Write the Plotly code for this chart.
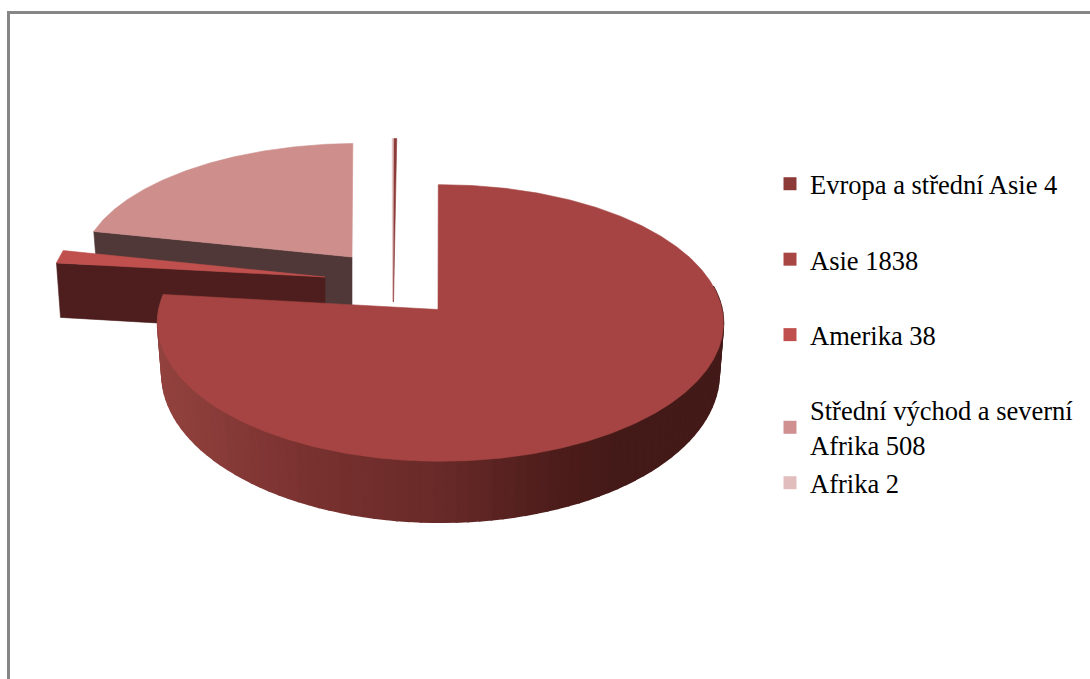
import numpy as np
import plotly.graph_objects as go

# ---- data ----
regions = ["Evropa a střední Asie", "Asie", "Amerika", "Střední východ a severní<br>Afrika", "Afrika"]
values = [4, 1838, 38, 508, 2]

# ---- styling ----
top_colors = ["#8c3a38", "#a54442", "#c0504d", "#cd8e8c", "#e2bdbd"]
swatch_colors = ["#8c3a38", "#a84644", "#c0504d", "#d09090", "#e2bdbd"]
wall_colors = [None, None, "#4e1e1e", "#503838", None]
apex_x = [393.5, 438, 325, 352, 392.5]
apex_y = [302, 309.5, 277, 257, 302]
rim_shift = [5.5, 2.5, 0, 7, 6]
scale_x = [1.0, 0.995, 0.965, 0.978, 1.0]
scale_y = [1.31, 1.0, 0.94, 0.91, 1.31]
depth_scale = [0, 1.0, 1.12, 1.0, 0]
FIRST_ANGLE = -1.1
RX, RY, K, DEPTH = 283.0, 137.0, 0.0975, 49.7


def rim(i, t):
    """Point of slice i's outer edge at clockwise angle t (deg from top)."""
    r = np.radians(t)
    s, c = np.sin(r), np.cos(r)
    w = 1 + K * c
    return apex_x[i] + rim_shift[i] + scale_x[i] * RX * s / w, apex_y[i] - scale_y[i] * RY * c / w, c


def depth(i, c):
    return depth_scale[i] * DEPTH / (1 + K * c) ** 2


def lerp_color(x):
    stops = [(160, (146, 66, 62)), (300, (122, 50, 48)), (440, (104, 42, 40)), (560, (76, 28, 26)), (620, (67, 26, 24)), (730, (67, 26, 24))]
    for (a, ca), (b, cb) in zip(stops, stops[1:]):
        if x <= b:
            f = max(0, (x - a) / (b - a))
            return "rgb(%d,%d,%d)" % tuple(round(p + (q - p) * f) for p, q in zip(ca, cb))
    return "rgb(67,26,24)"


fracs = np.array(values) / sum(values) * 360
starts = FIRST_ANGLE + np.concatenate([[0], np.cumsum(fracs)[:-1]])
ends = starts + fracs

fig = go.Figure()


def poly(xs, ys, color, lw=0.6):
    fig.add_trace(go.Scatter(x=xs, y=ys, mode="lines", fill="toself", fillcolor=color,
                             line=dict(color=color, width=lw), hoverinfo="skip", showlegend=False))


def top_face(i):
    ts = np.linspace(starts[i], ends[i], max(2, int(fracs[i] * 2)))
    pts = [rim(i, t) for t in ts]
    poly([apex_x[i]] + [p[0] for p in pts] + [apex_x[i]],
         [apex_y[i]] + [p[1] for p in pts] + [apex_y[i]], top_colors[i])


def cut_wall(i, t):
    """Flat face below the straight cut of slice i at angle t."""
    x, y, c = rim(i, t)
    d0, d1 = depth(i, c), depth(i, 0)
    xb = apex_x[i] + (x - apex_x[i]) * 0.985
    poly([x, apex_x[i], apex_x[i], xb, x],
         [y, apex_y[i], apex_y[i] + d1, y + d0, y], wall_colors[i])


# Středni východ
cut_wall(3, starts[3])
top_face(3)
# thin slices at the top
top_face(4)
top_face(0)
# Amerika
cut_wall(2, starts[2])
top_face(2)
# Asie: shaded outer wall, then top
angles = np.linspace(80, ends[1], 90)
for a, b in zip(angles[:-1], angles[1:]):
    xa, ya, ca = rim(1, a)
    xb, yb, cb = rim(1, b)
    da, db = depth(1, ca), depth(1, cb)
    sa = 440 + (xa - 440) * 0.985
    sb = 440 + (xb - 440) * 0.985
    poly([xa, xb, sb, sa, xa], [ya, yb, yb + db, ya + da, ya], lerp_color((xa + xb) / 2), lw=1.6)
top_face(1)

# legend entries
for i, (name, val) in enumerate(zip(regions, values)):
    fig.add_trace(go.Scatter(x=[None], y=[None], mode="markers", name=f"{name} {val}",
                             marker=dict(symbol="square", size=13, color=swatch_colors[i]),
                             legendgroup=name, legend="legend2" if i == 4 else "legend"))

legend_style = dict(font=dict(family="Liberation Serif", size=26.5, color="black"),
                    bgcolor="rgba(0,0,0,0)", itemwidth=30, itemclick=False, itemdoubleclick=False,
                    xanchor="left", yanchor="top", tracegroupgap=38, borderwidth=0)

fig.update_layout(
    width=1090, height=679, autosize=False,
    margin=dict(l=0, r=0, t=0, b=0),
    paper_bgcolor="white", plot_bgcolor="white",
    xaxis=dict(range=[0, 1090], visible=False, fixedrange=True),
    yaxis=dict(range=[679, 0], visible=False, fixedrange=True),
    legend=dict(x=770 / 1090, y=1 - 160 / 679, **legend_style),
    legend2=dict(x=770 / 1090, y=1 - 459 / 679, **legend_style),
    shapes=[dict(type="path", path="M 8.5 679 L 8.5 12.5 L 1090 12.5", xref="x", yref="y",
                 line=dict(color="#868686", width=3))],
)

fig.write_html("out.html", config=dict(displayModeBar=False),
               post_script="document.body.style.margin='0';document.body.style.overflow='hidden';")
